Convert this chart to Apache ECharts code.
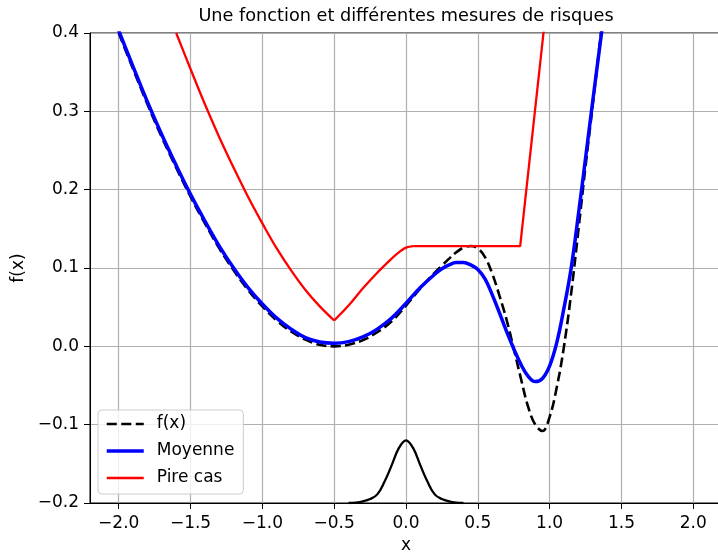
<!DOCTYPE html>
<html>
<head>
<meta charset="utf-8">
<script src="https://cdn.jsdelivr.net/npm/echarts@6/dist/echarts.min.js"></script>
<style>
  html, body { margin: 0; padding: 0; background: #fff; }
  #chart { width: 718px; height: 553px; }
</style>
</head>
<body>
<div id="chart"></div>
<script>
// x positions shared by f(x) and Moyenne
const xs = [-2.0, -1.9, -1.8, -1.7, -1.6, -1.5, -1.4, -1.3, -1.2, -1.1, -1.0, -0.9, -0.8, -0.7, -0.6, -0.5,
  -0.4, -0.3, -0.2, -0.1, 0.0, 0.1, 0.2, 0.25, 0.3, 0.35, 0.4, 0.45, 0.5, 0.55, 0.6, 0.65, 0.7, 0.75, 0.8,
  0.85, 0.9, 0.95, 1.0, 1.05, 1.1, 1.15, 1.2, 1.25, 1.3, 1.35, 1.4];
const fValues = [0.400, 0.354, 0.309, 0.267, 0.228, 0.191, 0.157, 0.125, 0.097, 0.072, 0.051, 0.033, 0.019, 0.0085, 0.002, 0.000,
  0.002, 0.008, 0.018, 0.032, 0.052, 0.074, 0.094, 0.103, 0.112, 0.120, 0.126, 0.128, 0.125, 0.114, 0.093, 0.065, 0.034, -0.003, -0.041,
  -0.077, -0.100, -0.108, -0.090, -0.052, 0.000, 0.068, 0.148, 0.230, 0.308, 0.388, 0.468];
const meanValues = [0.403, 0.357, 0.312, 0.270, 0.231, 0.194, 0.160, 0.128, 0.100, 0.075, 0.054, 0.036, 0.022, 0.011, 0.0055, 0.004,
  0.006, 0.012, 0.022, 0.036, 0.055, 0.075, 0.092, 0.099, 0.104, 0.107, 0.107, 0.104, 0.098, 0.086, 0.066, 0.043, 0.019, -0.003, -0.023,
  -0.038, -0.045, -0.041, -0.025, 0.005, 0.049, 0.100, 0.168, 0.240, 0.313, 0.384, 0.456];

// Pire cas : branche gauche, remontee, plateau puis montee
const worstX = [-1.6, -1.5, -1.4, -1.3, -1.2, -1.1, -1.0, -0.9, -0.8, -0.7, -0.6, -0.5,
  -0.4, -0.3, -0.2, -0.1, -0.05, 0.0, 0.05,
  0.795, 0.96];
const worstValues = [0.400, 0.354, 0.309, 0.267, 0.228, 0.191, 0.157, 0.125, 0.097, 0.072, 0.051, 0.033,
  0.052, 0.074, 0.094, 0.112, 0.120, 0.126, 0.128,
  0.128, 0.405];

// bruit (densite en bas)
const noiseX = [-0.4, -0.35, -0.3, -0.25, -0.2, -0.15, -0.1, -0.05, 0.0, 0.05, 0.1, 0.15, 0.2, 0.25, 0.3, 0.35, 0.4];
const noiseValues = [-0.2, -0.1995, -0.198, -0.195, -0.189, -0.173, -0.152, -0.130, -0.120, -0.130, -0.152, -0.173, -0.189, -0.195, -0.198, -0.1995, -0.2];

const xTicks = [-2.0, -1.5, -1.0, -0.5, 0.0, 0.5, 1.0, 1.5, 2.0];

const pairs = (a, b) => a.map((x, i) => [x, b[i]]);
const fmt = v => Number(v).toFixed(1).replace('-', '\u2212');
const worst = pairs(worstX, worstValues);

const chart = echarts.init(document.getElementById('chart'));
const font = 'DejaVu Sans';

const redLine = (data, smooth) => ({
  name: 'Pire cas',
  type: 'line',
  data,
  smooth,
  symbol: 'none',
  itemStyle: { color: '#ff0000' },
  lineStyle: { color: '#ff0000', width: 2.3 }
});

const option = {
  animation: false,
  textStyle: { fontFamily: font },
  title: {
    text: 'Une fonction et différentes mesures de risques',
    left: 406,
    top: 7,
    textAlign: 'center',
    padding: 0,
    textStyle: { fontSize: 17.7, fontWeight: 'normal', color: '#000', fontFamily: font }
  },
  grid: {
    left: 90,
    right: -4,
    top: 33,
    bottom: 50,
    outerBoundsMode: 'none',
    show: true,
    borderColor: '#000',
    borderWidth: 1
  },
  legend: {
    orient: 'vertical',
    left: 98,
    top: 410,
    padding: [4, 9, 6, 7],
    itemWidth: 37,
    itemHeight: 14,
    itemGap: 7,
    backgroundColor: 'rgba(255,255,255,0.8)',
    borderColor: '#cccccc',
    borderWidth: 1,
    borderRadius: 4,
    itemStyle: { opacity: 0, borderWidth: 0 },
    textStyle: { fontSize: 17, color: '#000', lineHeight: 20, padding: [0, 0, 0, 8], fontFamily: font },
    data: [
      { name: 'f(x)', lineStyle: { width: 2.6, type: [10, 4.5] } },
      { name: 'Moyenne', lineStyle: { width: 3.5 } },
      { name: 'Pire cas', lineStyle: { width: 2.3 } }
    ]
  },
  xAxis: {
    type: 'value',
    min: -2.2,
    max: 2.2,
    name: 'x',
    nameLocation: 'middle',
    nameGap: 33,
    nameTextStyle: { fontSize: 17, color: '#000', fontFamily: font },
    axisLine: { show: true, onZero: false, lineStyle: { color: '#000', width: 1 } },
    axisTick: { show: true, length: 6, customValues: xTicks, lineStyle: { color: '#000', width: 1 } },
    axisLabel: { customValues: xTicks, margin: 12, fontSize: 17, color: '#000', formatter: fmt },
    splitLine: { show: true, lineStyle: { color: '#b0b0b0', width: 1.2 } }
  },
  yAxis: {
    type: 'value',
    min: -0.2,
    max: 0.4,
    interval: 0.1,
    name: 'f(x)',
    nameLocation: 'middle',
    nameGap: 62,
    nameTextStyle: { fontSize: 17, color: '#000', fontFamily: font },
    axisLine: { show: true, onZero: false, lineStyle: { color: '#000', width: 1 } },
    axisTick: { show: true, length: 6, lineStyle: { color: '#000', width: 1 } },
    axisLabel: { margin: 11, fontSize: 17, color: '#000', formatter: fmt },
    splitLine: { show: true, lineStyle: { color: '#b0b0b0', width: 1.2 } }
  },
  series: [
    {
      name: 'f(x)',
      type: 'line',
      data: pairs(xs, fValues),
      smooth: 0.4,
      symbol: 'none',
      itemStyle: { color: '#000' },
      lineStyle: { color: '#000', width: 2.6, type: [10, 4.5] }
    },
    {
      name: 'Moyenne',
      type: 'line',
      data: pairs(xs, meanValues),
      smooth: 0.4,
      symbol: 'none',
      itemStyle: { color: '#0000ff' },
      lineStyle: { color: '#0000ff', width: 3.5 }
    },
    redLine(worst.slice(0, 12), 0.4),
    redLine(worst.slice(11, 19), 0.4),
    redLine(worst.slice(18), false),
    {
      name: 'bruit',
      type: 'line',
      data: pairs(noiseX, noiseValues),
      smooth: 0.4,
      symbol: 'none',
      itemStyle: { color: '#000' },
      lineStyle: { color: '#000', width: 2.3 }
    }
  ]
};

chart.setOption(option);
</script>
</body>
</html>
